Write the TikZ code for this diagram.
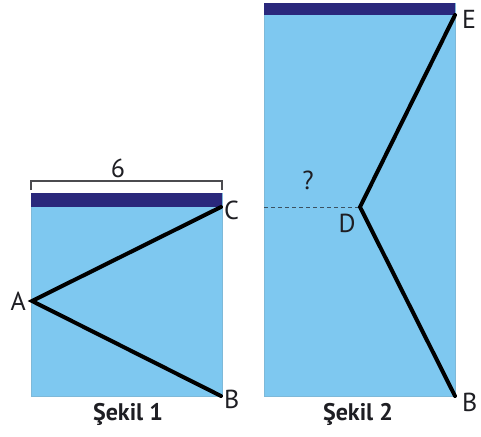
\documentclass[tikz,border=0pt]{standalone}
\usepackage{fontspec}
\setmainfont{PT Sans}
\definecolor{water}{RGB}{126,200,240}
\definecolor{navy}{RGB}{42,40,124}
\definecolor{ink}{RGB}{30,30,35}
\tikzset{
  tank/.style={fill=water, draw=water!80!gray, line width=0.6pt},
  band/.style={fill=navy, draw=none},
  rope/.style={draw=black, line width=4pt, line cap=round, line join=miter},
  lbl/.style={font=\fontsize{26}{26}\selectfont, text=ink, inner sep=0pt},
  figcaption/.style={font=\fontsize{24}{24}\selectfont\bfseries, text=ink, inner sep=0pt},
  guide/.style={draw=ink!70!water, line width=0.8pt, dash pattern=on 4pt off 3pt},
  brack/.style={draw=ink!80, line width=1.4pt}
}
\begin{document}
\begin{tikzpicture}[x=1pt,y=-1pt]
\useasboundingbox (0,0) rectangle (481,436);
\fill[white] (0,0) rectangle (481,436);
% Sekil 1
\path[tank] (31,193) rectangle (222,396);
\path[band] (31,193) rectangle (222,207);
\coordinate (A) at (32,301);
\coordinate (C) at (221,207);
\coordinate (B1) at (221,396);
\draw[rope] (C) -- (A) -- (B1);
\draw[brack] (31,190) -- (31,181) -- (222,181) -- (222,190);
\node[lbl] (six) at (118,168) {6};
\node[lbl, anchor=east] (lA) at (26,301) {A};
\node[lbl, anchor=west] (lC) at (224,210) {C};
\node[lbl, anchor=west] (lB1) at (224,399) {B};
\node[figcaption] (s1) at (128,414) {Şekil 1};
% Sekil 2
\path[tank] (264,3) rectangle (455,396);
\path[band] (264,3) rectangle (455,15);
\coordinate (E) at (455,15);
\coordinate (D) at (360,207);
\coordinate (B2) at (455,396);
\coordinate (L) at (264,207);
\draw[guide] (L) -- (D);
\draw[rope] (E) -- (D) -- (B2);
\node[lbl, anchor=west] (lE) at (462,19) {E};
\node[lbl] (lD) at (347,223) {D};
\node[lbl] (q) at (308,180) {?};
\node[lbl, anchor=west] (lB2) at (462,402) {B};
\node[figcaption] (s2) at (358,414) {Şekil 2};
\end{tikzpicture}
\end{document}
